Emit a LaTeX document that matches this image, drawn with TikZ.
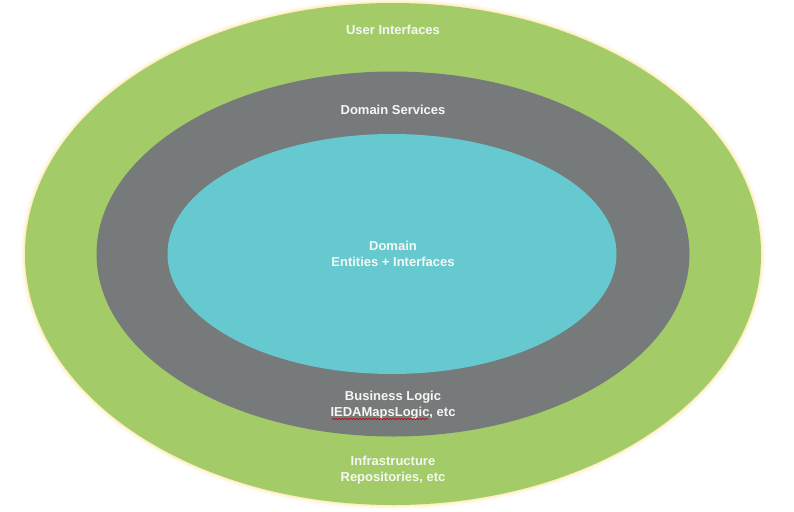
\documentclass[tikz,border=0pt]{standalone}
\usepackage{fontspec}
\setmainfont{Liberation Sans}
\usetikzlibrary{shapes.geometric, decorations.pathmorphing}

\definecolor{ringgreen}{RGB}{163,204,104}
\definecolor{ringgray}{RGB}{118,122,122}
\definecolor{corecyan}{RGB}{102,201,207}
\definecolor{glowyellow}{RGB}{255,226,150}
\definecolor{labelwhite}{RGB}{245,247,245}

\tikzset{
  ring/.style={ellipse, inner sep=0pt, outer sep=0pt},
  label/.style={text=labelwhite, font=\fontsize{13}{16}\selectfont\bfseries, align=center}
}

\begin{document}
\begin{tikzpicture}[x=1pt, y=-1pt]
        \useasboundingbox (0,0) rectangle (794,511);

        % soft glow round the outer ring
        \foreach \w/\o in {9/0.10, 6/0.20, 3/0.40}
          \draw [glowyellow, line width=\w pt, opacity=\o] (393,254) ellipse [x radius=368pt, y radius=251pt];

        \node [ring, fill=ringgreen, minimum width=736pt, minimum height=502pt] (outer) at (393, 254) {};
        \node [ring, fill=ringgray, minimum width=593pt, minimum height=365pt] (middle) at (393, 254) {};
        \node [ring, fill=corecyan, minimum width=449pt, minimum height=240pt] (inner) at (392, 254) {};

        \node [label] (ui) at (393, 30) {User Interfaces};
        \node [label] (services) at (393, 110) {Domain Services};
        \node [label] (domain) at (393, 254) {Domain\\Entities + Interfaces};
        \node [label] (logic) at (393, 405) {Business Logic\\IEDAMapsLogic, etc};
        \node [label] (infra) at (393, 470) {Infrastructure\\Repositories, etc};

        % spell-check squiggle
        \draw [red!80!black, line width=0.6pt, decorate, decoration={snake, amplitude=0.7pt, segment length=3pt}] (332, 419) -- (428, 419);
      \end{tikzpicture}
\end{document}
